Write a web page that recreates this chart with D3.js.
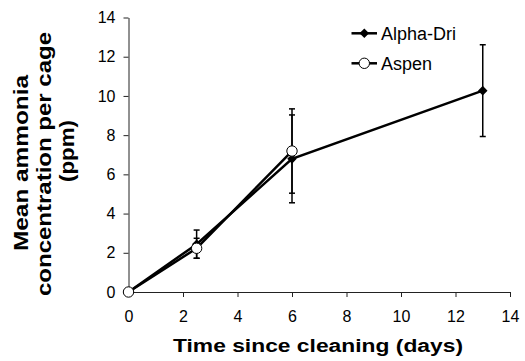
<!DOCTYPE html>
<html>
<head>
<meta charset="utf-8">
<script src="https://cdn.jsdelivr.net/npm/d3@7.9.0/dist/d3.min.js"></script>
<style>
  body { margin: 0; background: #fff; }
  svg { display: block; font-family: Arial, "Liberation Sans", sans-serif; }
</style>
</head>
<body>
<svg id="chart" width="525" height="361"></svg>
<script>
// values
const alphaDays = [0, 2.5, 6, 13];
const alphaMean = [0, 2.44, 6.79, 10.27];
const alphaErr = [0, 0.72, 2.24, 2.34];

const aspenDays = [0, 2.5, 6];
const aspenMean = [0, 2.23, 7.19];
const aspenErr = [0, 0.51, 2.15];

const xTicks = [0, 2, 4, 6, 8, 10, 12, 14];
const yTicks = [0, 2, 4, 6, 8, 10, 12, 14];
const yTitle = ['Mean ammonia', 'concentration per cage', '(ppm)'];
const xTitle = 'Time since cleaning (days)';
const seriesNames = ['Alpha-Dri', 'Aspen'];

const svg = d3.select('#chart');
const x = d3.scaleLinear().domain([0, 14]).range([128.5, 510]);
const y = d3.scaleLinear().domain([0, 14]).range([292, 17.5]);

// axes
const xAxis = svg.append('g')
  .attr('transform', `translate(0,${y(0)})`)
  .call(d3.axisBottom(x).tickValues(xTicks).tickSize(5).tickPadding(14).tickSizeOuter(0));
const yAxis = svg.append('g')
  .attr('transform', `translate(${x(0)},0)`)
  .call(d3.axisLeft(y).tickValues(yTicks).tickSize(5).tickPadding(8).tickSizeOuter(0));

[xAxis, yAxis].forEach(g => {
  g.select('.domain').attr('stroke', '#222').attr('stroke-width', 1);
  g.selectAll('.tick line').attr('stroke', '#222');
  g.selectAll('.tick text').attr('font-size', 16).attr('fill', '#000')
    .attr('font-family', 'Arial, "Liberation Sans", sans-serif');
});

// titles
svg.append('text')
  .attr('x', 318).attr('y', 352)
  .attr('text-anchor', 'middle')
  .attr('font-weight', 'bold').attr('font-size', 18)
  .attr('textLength', 290).attr('lengthAdjust', 'spacingAndGlyphs')
  .text(xTitle);

// the original title is drawn a bit taller than its width, hence textLength
const yTitleMid = [163, 164, 151];
const yTitleLen = [176, 264, 62];
yTitle.forEach((t, i) => {
  svg.append('text')
    .attr('transform', `translate(${28 + i * 23},${yTitleMid[i]}) rotate(-90)`)
    .attr('text-anchor', 'middle')
    .attr('font-weight', 'bold').attr('font-size', 20.5)
    .attr('textLength', yTitleLen[i]).attr('lengthAdjust', 'spacingAndGlyphs')
    .text(t);
});

const line = d3.line().x(d => x(d[0])).y(d => y(d[1]));
const diamond = d3.symbol().type(d3.symbolDiamond2).size(58);

const alpha = alphaDays.map((d, i) => [d, alphaMean[i], alphaErr[i]]);
const aspen = aspenDays.map((d, i) => [d, aspenMean[i], aspenErr[i]]);

// error bars
const drawErr = (data) => {
  data.filter(d => d[2] > 0).forEach(d => {
    const g = svg.append('g').attr('stroke', '#000').attr('stroke-width', 1.5);
    g.append('line').attr('x1', x(d[0])).attr('x2', x(d[0]))
      .attr('y1', y(d[1] - d[2])).attr('y2', y(d[1] + d[2]));
    [d[1] - d[2], d[1] + d[2]].forEach(v => {
      g.append('line').attr('x1', x(d[0]) - 3).attr('x2', x(d[0]) + 3)
        .attr('y1', y(v)).attr('y2', y(v));
    });
  });
};
drawErr(alpha);
drawErr(aspen);

// lines
[alpha, aspen].forEach(data => {
  svg.append('path').attr('d', line(data))
    .attr('fill', 'none').attr('stroke', '#000').attr('stroke-width', 2.5);
});

// markers
svg.selectAll('.dia').data(alpha).join('path')
  .attr('transform', d => `translate(${x(d[0])},${y(d[1])})`)
  .attr('d', diamond).attr('fill', '#000');
svg.selectAll('.circ').data(aspen).join('circle')
  .attr('cx', d => x(d[0])).attr('cy', d => y(d[1])).attr('r', 5.2)
  .attr('fill', '#fff').attr('stroke', '#000').attr('stroke-width', 1);

// legend
const legend = svg.append('g');
seriesNames.forEach((name, i) => {
  const ly = 33.3 + i * 30;
  legend.append('line').attr('x1', 351.5).attr('x2', 377).attr('y1', ly).attr('y2', ly)
    .attr('stroke', '#000').attr('stroke-width', 2.5);
  if (i === 0) {
    legend.append('path').attr('transform', `translate(364.3,${ly})`)
      .attr('d', diamond).attr('fill', '#000');
  } else {
    legend.append('circle').attr('cx', 364.3).attr('cy', ly).attr('r', 5.2)
      .attr('fill', '#fff').attr('stroke', '#000');
  }
  legend.append('text').attr('x', 381).attr('y', ly + 6.5)
    .attr('font-size', 18).text(name);
});
</script>
</body>
</html>
